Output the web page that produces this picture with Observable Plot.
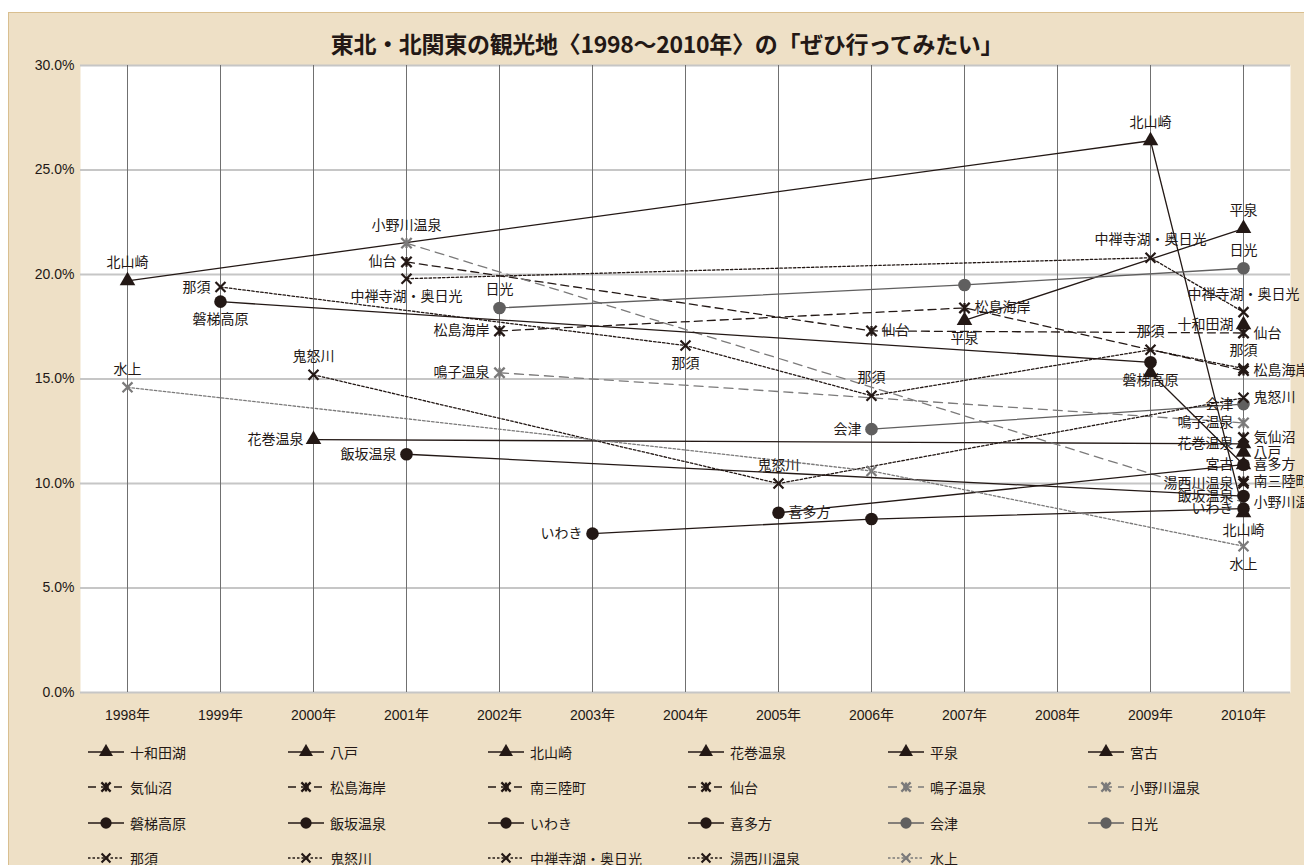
<!DOCTYPE html>
<html><head><meta charset="utf-8">
<script src="https://cdn.jsdelivr.net/npm/d3@7"></script>
<script src="https://cdn.jsdelivr.net/npm/@observablehq/plot@0.6"></script>
<style>
html,body{margin:0;padding:0;background:#fff;}
#wrap{position:relative;width:1304px;height:865px;overflow:hidden;font-family:"Noto Sans CJK JP",sans-serif;color:#231815;}
#bg{position:absolute;left:8px;top:12px;width:1310px;height:870px;background:#eee0c6;border:1px solid #d9bf90;}
#title{position:absolute;left:0;width:1334px;top:26px;text-align:center;font-size:23px;font-weight:bold;letter-spacing:-0.3px;}
#chart{position:absolute;left:0;top:55px;}
#legend{position:absolute;left:0;top:0;width:1304px;height:865px;pointer-events:none;}
.li{position:absolute;display:flex;align-items:center;font-size:14px;height:20px;white-space:nowrap;}
.li svg{margin-right:6px;}
</style></head><body>
<div id="wrap"><div id="bg"></div>
<div id="title">東北・北関東の観光地〈1998〜2010年〉の「ぜひ行ってみたい」</div>
<div id="chart"></div><div id="legend"></div></div>
<script>
// ---- data ----
const years = [1998,1999,2000,2001,2002,2003,2004,2005,2006,2007,2008,2009,2010];
const yTicks = [0,5,10,15,20,25,30];
const _ = null;
//                1998 1999 2000 2001 2002 2003 2004 2005 2006 2007 2008 2009 2010
const towada      = [_,   _,   _,   _,   _,   _,   _,   _,   _,   _,   _,   _,   17.6];
const hachinohe   = [_,   _,   _,   _,   _,   _,   _,   _,   _,   _,   _,   _,   11.5];
const kitayamazaki= [19.7,_,   _,   _,   _,   _,   _,   _,   _,   _,   _,   26.4,8.6];
const hanamaki    = [_,   _,   12.1,_,   _,   _,   _,   _,   _,   _,   _,   _,   11.9];
const hiraizumi   = [_,   _,   _,   _,   _,   _,   _,   _,   _,   17.8,_,   _,   22.2];
const miyako      = [_,   _,   _,   _,   _,   _,   _,   _,   _,   _,   _,   15.3,10.9];
const kesennuma   = [_,   _,   _,   _,   _,   _,   _,   _,   _,   _,   _,   _,   12.2];
const matsushima  = [_,   _,   _,   _,   17.3,_,   _,   _,   _,   18.4,_,   _,   15.4];
const minamisanriku=[_,   _,   _,   _,   _,   _,   _,   _,   _,   _,   _,   _,   10.1];
const sendai      = [_,   _,   _,   20.6,_,   _,   _,   _,   17.3,_,   _,   _,   17.2];
const naruko      = [_,   _,   _,   _,   15.3,_,   _,   _,   _,   _,   _,   _,   12.9];
const onogawa     = [_,   _,   _,   21.5,_,   _,   _,   _,   _,   _,   _,   _,   9.1];
const bandai      = [_,   18.7,_,   _,   _,   _,   _,   _,   _,   _,   _,   15.8,_];
const iizaka      = [_,   _,   _,   11.4,_,   _,   _,   _,   _,   _,   _,   _,   9.4];
const iwaki       = [_,   _,   _,   _,   _,   7.6, _,   _,   8.3, _,   _,   _,   8.8];
const kitakata    = [_,   _,   _,   _,   _,   _,   _,   8.6, _,   _,   _,   _,   10.9];
const aizu        = [_,   _,   _,   _,   _,   _,   _,   _,   12.6,_,   _,   _,   13.8];
const nikko       = [_,   _,   _,   _,   18.4,_,   _,   _,   _,   19.5,_,   _,   20.3];
const nasu        = [_,   19.4,_,   _,   _,   _,   16.6,_,   14.2,_,   _,   16.4,15.5];
const kinugawa    = [_,   _,   15.2,_,   _,   _,   _,   10.0,_,   _,   _,   _,   14.1];
const chuzenji    = [_,   _,   _,   19.8,_,   _,   _,   _,   _,   _,   _,   20.8,18.2];
const yunishigawa = [_,   _,   _,   _,   _,   _,   _,   _,   _,   _,   _,   _,   10.0];
const minakami    = [14.6,_,   _,   _,   _,   _,   _,   _,   10.6,_,   _,   _,   7.0];

const series = [
  ["十和田湖", towada, "triK"], ["八戸", hachinohe, "triK"], ["北山崎", kitayamazaki, "triK"],
  ["花巻温泉", hanamaki, "triK"], ["平泉", hiraizumi, "triK"], ["宮古", miyako, "triK"],
  ["気仙沼", kesennuma, "starK"], ["松島海岸", matsushima, "starK"], ["南三陸町", minamisanriku, "starK"],
  ["仙台", sendai, "starK"], ["鳴子温泉", naruko, "starG"], ["小野川温泉", onogawa, "starG"],
  ["磐梯高原", bandai, "circK"], ["飯坂温泉", iizaka, "circK"], ["いわき", iwaki, "circK"],
  ["喜多方", kitakata, "circK"], ["会津", aizu, "circG"], ["日光", nikko, "circG"],
  ["那須", nasu, "dotK"], ["鬼怒川", kinugawa, "dotK"], ["中禅寺湖・奥日光", chuzenji, "dotK"],
  ["湯西川温泉", yunishigawa, "dotK"], ["水上", minakami, "dotG"]
];

// data-label placement (style)
const labelPos = {
  "北山崎": {1998:"t",2009:"t",2010:"b"}, "十和田湖": {2010:"l"}, "八戸": {2010:"r"},
  "花巻温泉": {2000:"l",2010:"l"}, "平泉": {2007:"b",2010:"t"}, "宮古": {2010:"l"},
  "気仙沼": {2010:"r"}, "松島海岸": {2002:"l",2007:"r",2010:"r"}, "南三陸町": {2010:"r"},
  "仙台": {2001:"l",2006:"r",2010:"r"}, "鳴子温泉": {2002:"l",2010:"l"}, "小野川温泉": {2001:"t",2010:"r"},
  "磐梯高原": {1999:"b",2009:"b"}, "飯坂温泉": {2001:"l",2010:"l"}, "いわき": {2003:"l",2010:"l"},
  "喜多方": {2005:"r",2010:"r"}, "会津": {2006:"l",2010:"l"}, "日光": {2002:"t",2010:"t"},
  "那須": {1999:"l",2004:"b",2006:"t",2009:"t",2010:"t"}, "鬼怒川": {2000:"t",2005:"t",2010:"r"},
  "中禅寺湖・奥日光": {2001:"b",2009:"t",2010:"t"}, "湯西川温泉": {2010:"l"}, "水上": {1998:"t",2010:"b"}
};

// ---- styles ----
const K = "#231815", G = "#605f5f", G2 = "#7b7a7a";
const starX = {draw(ctx, size){ const r = Math.sqrt(size)*0.56; ctx.moveTo(-r,-r); ctx.lineTo(r,r); ctx.moveTo(-r,r); ctx.lineTo(r,-r); ctx.moveTo(0,-r*0.95); ctx.lineTo(0,r*0.95);} };
const styles = {
  triK:  {line:K,  dash:null,    sym:"triangle", fill:K,      stroke:"none", r:5.8, sw:0},
  starK: {line:K,  dash:"8,5",   sym:starX,      fill:"none", stroke:K,  r:5.2, sw:2.3},
  starG: {line:G2, dash:"9,6",   sym:starX,      fill:"none", stroke:G2, r:5.2, sw:2.3},
  circK: {line:K,  dash:null,    sym:"circle",   fill:K,      stroke:"none", r:6.3, sw:0},
  circG: {line:G,  dash:null,    sym:"circle",   fill:G,      stroke:"none", r:6.3, sw:0},
  dotK:  {line:K,  dash:"2.5,2", sym:"times",    fill:"none", stroke:K,  r:4.6, sw:2.2},
  dotG:  {line:G2, dash:"2.5,2", sym:"times",    fill:"none", stroke:G2, r:4.6, sw:2.2}
};

function pts(name, vals){ return years.map((yr,i)=>({name, x:yr, y:vals[i]})).filter(d=>d.y!=null); }

const marks = [
  Plot.frame({fill:"white", stroke:"none"}),
  Plot.ruleY(yTicks, {stroke:"#c6c6c6", strokeWidth:2}),
  Plot.ruleX(years, {stroke:"#707070", strokeWidth:1})
];
for (const [name, vals, st] of series) {
  const s = styles[st];
  marks.push(Plot.line(pts(name, vals), {x:"x", y:"y", stroke:s.line, strokeWidth:1.3, strokeDasharray:s.dash ?? undefined}));
}
for (const [name, vals, st] of series) {
  const s = styles[st];
  marks.push(Plot.dot(pts(name, vals), {x:"x", y:"y", symbol:s.sym, r:s.r, fill:s.fill, stroke:s.stroke, strokeWidth:s.sw}));
}
const lab = [];
for (const [name, vals] of series) {
  for (const d of pts(name, vals)) { const p = (labelPos[name]||{})[d.x]; if (p) lab.push({...d, p}); }
}
const tOpt = {fontSize:14, fill:K, fontFamily:"Noto Sans CJK JP"};
marks.push(Plot.text(lab.filter(d=>d.p==="t"), {x:"x", y:"y", text:"name", dy:-18, ...tOpt}));
marks.push(Plot.text(lab.filter(d=>d.p==="b"), {x:"x", y:"y", text:"name", dy:18, ...tOpt}));
marks.push(Plot.text(lab.filter(d=>d.p==="l"), {x:"x", y:"y", text:"name", dx:-10, textAnchor:"end", ...tOpt}));
marks.push(Plot.text(lab.filter(d=>d.p==="r"), {x:"x", y:"y", text:"name", dx:10, textAnchor:"start", ...tOpt}));

const chart = Plot.plot({
  width:1304, height:677, marginTop:10, marginBottom:40, marginLeft:80, marginRight:14,
  style:{background:"transparent", fontFamily:"'Liberation Sans','Noto Sans CJK JP',sans-serif", fontSize:"14px", color:K},
  x:{type:"point", domain:years, padding:0.5, tickFormat:d=>d+"年", tickSize:0, tickPadding:18, label:null},
  y:{domain:[0,30], ticks:yTicks, tickFormat:d=>d.toFixed(1)+"%", tickSize:0, tickPadding:6, label:null},
  marks
});
document.getElementById("chart").appendChild(chart);

// ---- legend ----
const leg = document.getElementById("legend");
series.forEach(([name, vals, st], i) => {
  const s = styles[st];
  const c = i % 6, r = Math.floor(i / 6);
  const div = document.createElement("div");
  div.className = "li";
  div.style.left = (88 + 200*c) + "px";
  div.style.top = (752 + 35.3*r - 10) + "px";
  const svg = d3.create("svg").attr("width",36).attr("height",16);
  svg.append("line").attr("x1",0).attr("x2",36).attr("y1",8).attr("y2",8)
    .attr("stroke",s.line).attr("stroke-width",1.3).attr("stroke-dasharray",s.dash);
  const symType = s.sym === "triangle" ? d3.symbolTriangle : s.sym === "circle" ? d3.symbolCircle : s.sym === "times" ? d3.symbolTimes : s.sym;
  svg.append("path").attr("transform","translate(18,8)")
    .attr("d", d3.symbol(symType, Math.PI*s.r*s.r*0.8)())
    .attr("fill",s.fill).attr("stroke",s.stroke).attr("stroke-width",s.sw);
  div.appendChild(svg.node());
  const t = document.createElement("span"); t.textContent = name; div.appendChild(t);
  leg.appendChild(div);
});
</script></body></html>
